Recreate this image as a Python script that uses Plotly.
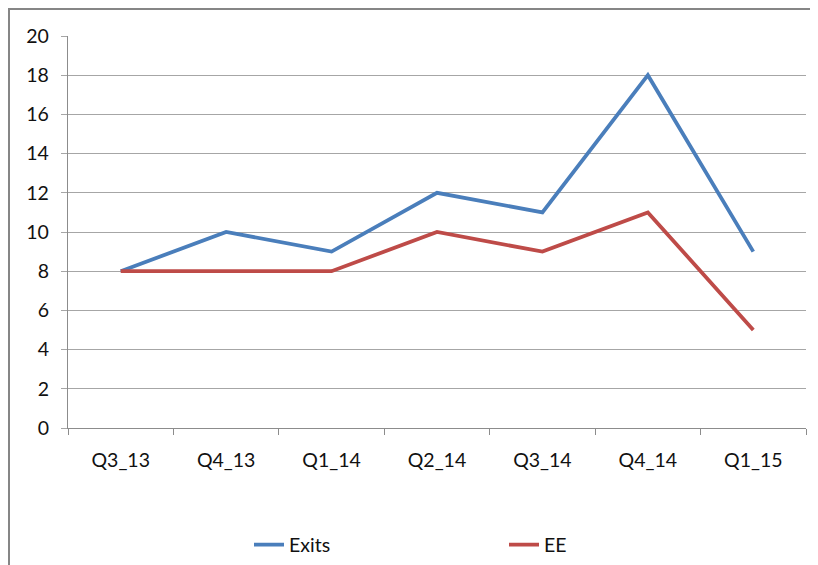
import plotly.graph_objects as go

categories = ["Q3_13", "Q4_13", "Q1_14", "Q2_14", "Q3_14", "Q4_14", "Q1_15"]
exits = [8, 10, 9, 12, 11, 18, 9]
ee = [8, 8, 8, 10, 9, 11, 5]
y_ticks = list(range(0, 21, 2))

FONT = "Lato"
OFF = 8  # default page body margin
W, H = 818 - OFF, 565 - OFF
# plot area in screen pixels: x 68..806, y 36..428
L, T = 68 - OFF, 36 - OFF
R = W - (806 - OFF)
B = H - (428 - OFF)
pw, ph = W - L - R, H - T - B

def px_x(sx):
    return (sx - OFF - L) / pw

def px_y(sy):
    return (H - B - (sy - OFF)) / ph

fig = go.Figure()
fig.add_trace(go.Scatter(x=categories, y=exits, name="Exits", mode="lines",
                         line=dict(color="#4A7EBB", width=3.8)))
fig.add_trace(go.Scatter(x=categories, y=ee, name="EE", mode="lines",
                         line=dict(color="#BE4B48", width=3.8)))

fig.update_layout(
    width=W, height=H,
    margin=dict(l=L, r=R, t=T, b=B, autoexpand=False),
    paper_bgcolor="white", plot_bgcolor="white",
    font=dict(family=FONT, size=19.5, color="#111111"),
    showlegend=True,
    legend=dict(orientation="h", x=px_x(249), xanchor="left",
                y=px_y(545), yanchor="middle",
                entrywidth=210, entrywidthmode="pixels",
                font=dict(family=FONT, size=19.5, color="#111111"),
                bgcolor="rgba(0,0,0,0)"),
    xaxis=dict(type="category", showgrid=False, showline=True,
               linecolor="#8c8c8c", linewidth=1.3,
               ticks="outside", tickson="boundaries", ticklen=6,
               tickcolor="#8c8c8c", tickwidth=1.3,
               ticklabelstandoff=14, zeroline=False,
               range=[-0.5, len(categories) - 0.5]),
    yaxis=dict(range=[0, 20], tickvals=y_ticks, showgrid=True,
               gridcolor="#a6a6a6", gridwidth=1.3, showline=True,
               linecolor="#8c8c8c", linewidth=1.3,
               ticks="outside", ticklen=6, tickcolor="#a6a6a6",
               tickwidth=1.3, ticklabelstandoff=8, zeroline=False),
    shapes=[dict(type="rect", xref="paper", yref="paper",
                 x0=px_x(9), x1=px_x(830), y0=px_y(580), y1=px_y(9),
                 line=dict(color="#868686", width=2), fillcolor="rgba(0,0,0,0)",
                 layer="below")],
)

fig.write_html("out.html")
